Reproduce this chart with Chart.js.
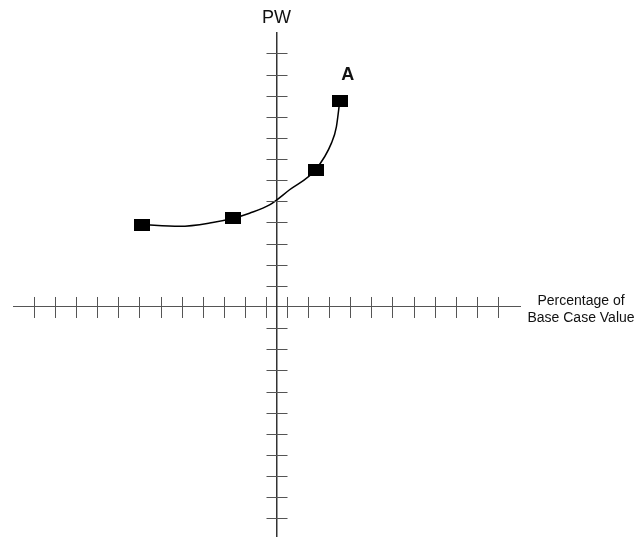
<!DOCTYPE html>
<html lang="en">
<head>
    <meta charset="UTF-8">
    <title>PW vs Percentage of Base Case Value</title>
    <style>
        html, body { margin: 0; padding: 0; background: #fff; }
        #grafico { display: block; }
    </style>
    <script src="https://cdn.jsdelivr.net/npm/chart.js"></script>
</head>
<body>
    <canvas id="grafico" width="641" height="541"></canvas>

    <script>
        // units = one tick step on the axes
        // square markers
        const pointX = [-6.4, -2.05, 1.85, 3.0];
        const pointY = [3.9, 4.2, 6.5, 9.75];
        // curve A
        const curveX = [-6.4, -4.6, -3.03, -2.05, -1.28, -0.33, 0.62, 1.85, 2.61, 2.84, 3.0];
        const curveY = [3.9, 3.82, 4.0, 4.2, 4.44, 4.83, 5.55, 6.5, 7.77, 8.53, 9.75];
        const curveName = 'A';

        // tick marks on each axis
        const xTicks = [-11.5, -10.5, -9.5, -8.5, -7.5, -6.5, -5.5, -4.5, -3.5, -2.5, -1.5, -0.5,
                        0.5, 1.5, 2.5, 3.5, 4.5, 5.5, 6.5, 7.5, 8.5, 9.5, 10.5];
        const yTicks = [-10, -9, -8, -7, -6, -5, -4, -3, -2, -1, 1, 2, 3, 4, 5, 6, 7, 8, 9, 10, 11, 12];

        const yTitle = 'PW';
        const xTitle = ['Percentage of', 'Base Case Value'];

        // marker: small filled rectangle
        const marker = document.createElement('canvas');
        marker.width = 16;
        marker.height = 12;
        const mctx = marker.getContext('2d');
        mctx.fillStyle = '#000';
        mctx.fillRect(0, 0, 16, 12);

        // tick marks crossing the axes + labels
        const axisDecor = {
            id: 'axisDecor',
            afterDraw(chart) {
                const ctx = chart.ctx;
                const xs = chart.scales.x;
                const ys = chart.scales.y;
                const x0 = xs.getPixelForValue(0);
                const y0 = ys.getPixelForValue(0);
                ctx.save();
                ctx.strokeStyle = '#555';
                ctx.lineWidth = 1;
                ctx.beginPath();
                xTicks.forEach(v => {
                    const px = Math.round(xs.getPixelForValue(v)) + 0.5;
                    ctx.moveTo(px, y0 - 10);
                    ctx.lineTo(px, y0 + 11);
                });
                yTicks.forEach(v => {
                    const py = Math.round(ys.getPixelForValue(v)) + 0.5;
                    ctx.moveTo(x0 - 10, py);
                    ctx.lineTo(x0 + 11, py);
                });
                ctx.stroke();

                ctx.fillStyle = '#111';
                ctx.textAlign = 'center';
                ctx.textBaseline = 'middle';
                ctx.font = '18px "Liberation Sans", Arial, sans-serif';
                ctx.fillText(yTitle, x0, chart.chartArea.top - 15);

                const last = chart.getDatasetMeta(1).data[pointX.length - 1];
                ctx.font = 'bold 18px "Liberation Sans", Arial, sans-serif';
                ctx.fillText(curveName, last.x + 8, last.y - 26);

                ctx.font = '14px "Liberation Sans", Arial, sans-serif';
                ctx.fillText(xTitle[0], chart.chartArea.right + 61, y0 - 6);
                ctx.fillText(xTitle[1], chart.chartArea.right + 61, y0 + 11);
                ctx.restore();
            }
        };

        const ctx = document.getElementById('grafico').getContext('2d');
        const chart = new Chart(ctx, {
            type: 'line',
            data: {
                datasets: [{
                    label: curveName,
                    data: curveX.map((x, i) => ({ x: x, y: curveY[i] })),
                    borderColor: '#000',
                    borderWidth: 1.5,
                    cubicInterpolationMode: 'monotone',
                    pointRadius: 0,
                    clip: false
                }, {
                    label: curveName + ' points',
                    data: pointX.map((x, i) => ({ x: x, y: pointY[i] })),
                    showLine: false,
                    pointStyle: marker,
                    clip: false
                }]
            },
            options: {
                responsive: false,
                animation: false,
                layout: { padding: { left: 13, right: 121, top: 33, bottom: 1 } },
                plugins: { legend: { display: false }, tooltip: { enabled: false } },
                scales: {
                    x: {
                        type: 'linear',
                        min: -12.5,
                        max: 11.55,
                        position: { y: 0 },
                        grid: { drawOnChartArea: false, drawTicks: false },
                        border: { color: '#555', width: 1 },
                        ticks: { display: false },
                        afterFit(scale) { scale.height = 0; }
                    },
                    y: {
                        type: 'linear',
                        min: -10.84,
                        max: 12.97,
                        position: { x: 0 },
                        grid: { drawOnChartArea: false, drawTicks: false },
                        border: { color: '#333', width: 1.5 },
                        ticks: { display: false },
                        afterFit(scale) { scale.width = 0; }
                    }
                }
            },
            plugins: [axisDecor]
        });
    </script>
</body>
</html>
